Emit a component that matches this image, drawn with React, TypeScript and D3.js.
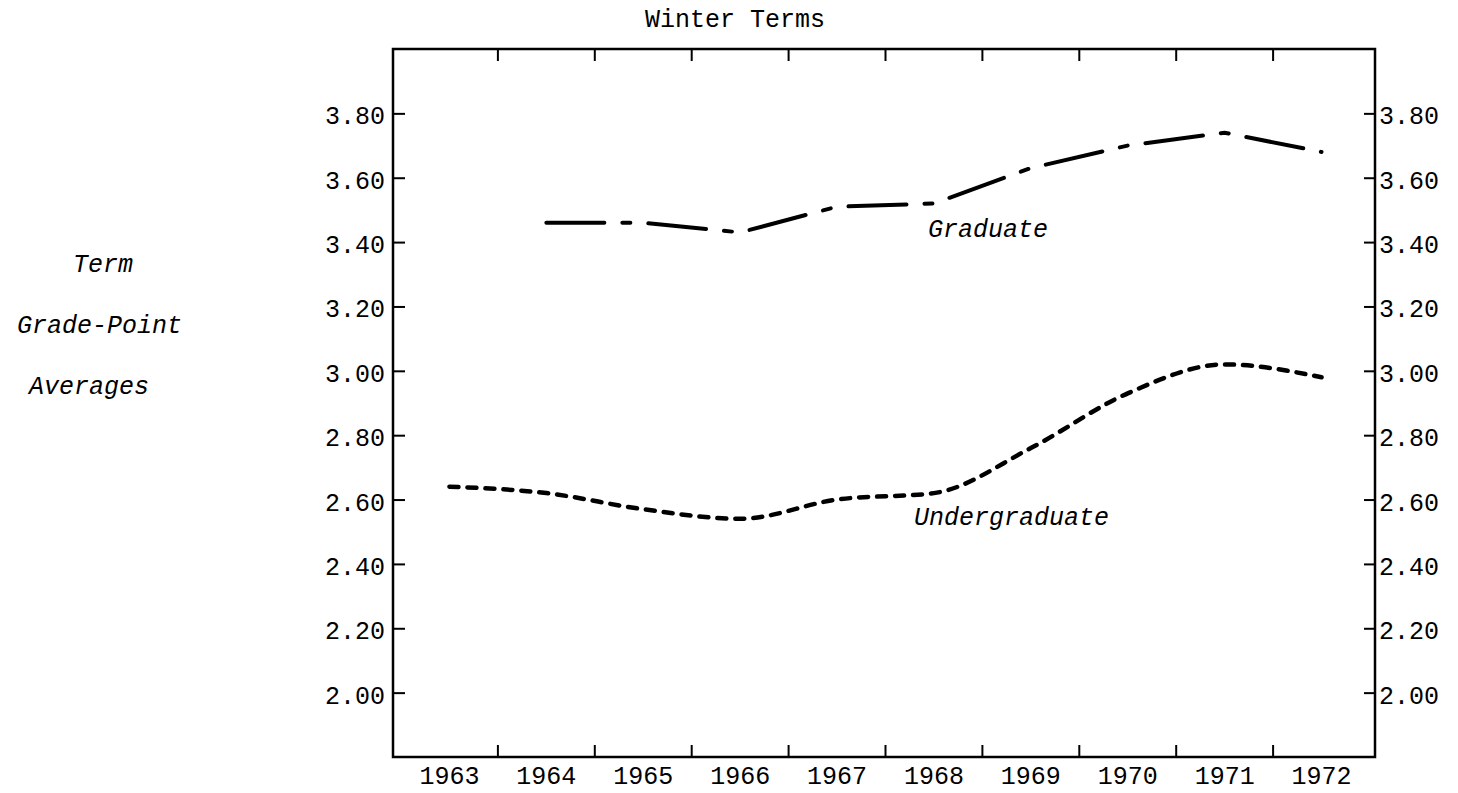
import { useEffect, useRef } from "react";
import * as d3 from "d3";

const YEARS = ["1963", "1964", "1965", "1966", "1967", "1968", "1969", "1970", "1971", "1972"];
const UNDERGRAD_GPA = [2.64, 2.62, 2.57, 2.54, 2.60, 2.62, 2.76, 2.93, 3.02, 2.98];
const GRAD_YEARS = ["1964", "1965", "1966", "1967", "1968", "1969", "1970", "1971", "1972"];
const GRAD_GPA = [3.46, 3.46, 3.43, 3.51, 3.52, 3.63, 3.70, 3.74, 3.68];
const Y_TICKS = [2.0, 2.2, 2.4, 2.6, 2.8, 3.0, 3.2, 3.4, 3.6, 3.8];
const SIDE_LABEL = ["Term", "Grade-Point", "Averages"];

const MONO = "'Liberation Mono', 'DejaVu Sans Mono', monospace";

export default function App() {
  const ref = useRef<HTMLDivElement>(null);

  useEffect(() => {
    if (!ref.current) return;
    const container = ref.current;
    d3.select(container).select("svg").remove();

    const width = 1458;
    const height = 793;
    const left = 393;
    const right = 1375;
    const top = 49;
    const bottom = 757;

    const x = d3.scaleBand<string>()
      .domain(YEARS)
      .range([401, 1370]);
    const cx = (d: string) => (x(d) ?? 0) + x.bandwidth() / 2;

    const y = d3.scaleLinear()
      .domain([1.8, 4.0])
      .range([bottom, top]);

    const svg = d3.create("svg")
      .attr("width", width)
      .attr("height", height)
      .attr("viewBox", [0, 0, width, height])
      .attr("style", "position:absolute;left:0;top:0;background:#fff;");

    // frame
    svg.append("rect")
      .attr("x", left)
      .attr("y", top)
      .attr("width", right - left)
      .attr("height", bottom - top)
      .attr("fill", "none")
      .attr("stroke", "#000")
      .attr("stroke-width", 2.5);

    const fmt = d3.format(".2f");

    svg.append("g")
      .attr("transform", `translate(${left},0)`)
      .call(d3.axisLeft(y).tickValues(Y_TICKS).tickFormat(d => fmt(+d)).tickSize(-12).tickPadding(8))
      .call(g => g.select(".domain").remove())
      .call(g => g.selectAll(".tick line").attr("stroke-width", 2))
      .call(g => g.selectAll(".tick text")
        .attr("dy", "0.42em")
        .attr("font-family", MONO)
        .attr("font-size", 25)
        .attr("fill", "#000"));

    svg.append("g")
      .attr("transform", `translate(${right},0)`)
      .call(d3.axisRight(y).tickValues(Y_TICKS).tickFormat(d => fmt(+d)).tickSize(-11).tickPadding(4))
      .call(g => g.select(".domain").remove())
      .call(g => g.selectAll(".tick line").attr("stroke-width", 2))
      .call(g => g.selectAll(".tick text")
        .attr("dy", "0.42em")
        .attr("font-family", MONO)
        .attr("font-size", 25)
        .attr("fill", "#000"));

    svg.append("g")
      .attr("transform", `translate(0,${bottom})`)
      .call(d3.axisBottom(x).tickSize(0))
      .call(g => g.select(".domain").remove())
      .call(g => g.selectAll(".tick text")
        .attr("y", 27)
        .attr("dy", "0")
        .attr("font-family", MONO)
        .attr("font-size", 25)
        .attr("fill", "#000"));

    // tick marks sit on the boundaries between years, top and bottom
    const bounds = YEARS.slice(1).map(d => x(d) ?? 0);
    svg.append("g")
      .attr("stroke", "#000")
      .attr("stroke-width", 2)
      .call(g => g.selectAll("line.b")
        .data(bounds)
        .join("line")
          .attr("class", "b")
          .attr("x1", d => d).attr("x2", d => d)
          .attr("y1", bottom).attr("y2", bottom - 12))
      .call(g => g.selectAll("line.t")
        .data(bounds)
        .join("line")
          .attr("class", "t")
          .attr("x1", d => d).attr("x2", d => d)
          .attr("y1", top).attr("y2", top + 12));

    const gradLine = d3.line<number>()
      .x((_, i) => cx(GRAD_YEARS[i]))
      .y(d => y(d))
      .curve(d3.curveLinear);

    const undergradLine = d3.line<number>()
      .x((_, i) => cx(YEARS[i]))
      .y(d => y(d))
      .curve(d3.curveMonotoneX);

    svg.append("path")
      .datum(GRAD_GPA)
      .attr("d", gradLine)
      .attr("fill", "none")
      .attr("stroke", "#000")
      .attr("stroke-width", 4)
      .attr("stroke-linecap", "round")
      .attr("stroke-dasharray", "58,18,8,18");

    svg.append("path")
      .datum(UNDERGRAD_GPA)
      .attr("d", undergradLine)
      .attr("fill", "none")
      .attr("stroke", "#000")
      .attr("stroke-width", 4.5)
      .attr("stroke-linecap", "round")
      .attr("stroke-dasharray", "9,9");

    const italic = (g: d3.Selection<SVGTextElement, unknown, null, undefined>) =>
      g.attr("font-family", MONO).attr("font-style", "italic").attr("font-size", 25).attr("fill", "#000");

    svg.append("text").attr("x", 928).attr("y", 237).text("Graduate").call(italic);
    svg.append("text").attr("x", 914).attr("y", 525).text("Undergraduate").call(italic);

    svg.append("text")
      .attr("x", 645)
      .attr("y", 27)
      .attr("font-family", MONO)
      .attr("font-size", 25)
      .attr("fill", "#000")
      .text("Winter Terms");

    const sideX = [73, 17, 29];
    const sideY = [272, 333, 394];
    SIDE_LABEL.forEach((t, i) => {
      svg.append("text").attr("x", sideX[i]).attr("y", sideY[i]).text(t).call(italic);
    });

    container.append(svg.node()!);
  }, []);

  return <div ref={ref} />;
}
